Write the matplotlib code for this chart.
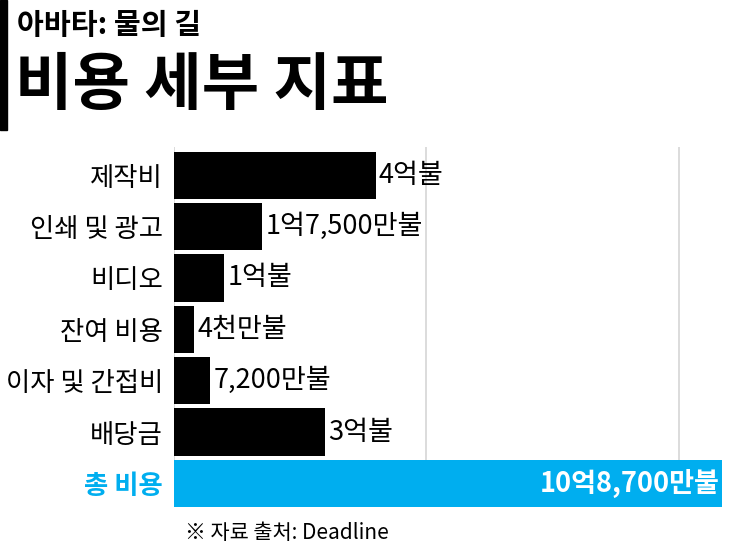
import matplotlib
matplotlib.use('Agg')
import matplotlib.pyplot as plt
from matplotlib.patches import Rectangle

plt.rcParams['font.family'] = ['Noto Sans CJK KR', 'DejaVu Sans']

# data (values in millions of dollars)
categories = ['제작비', '인쇄 및 광고', '비디오', '잔여 비용', '이자 및 간접비', '배당금', '총 비용']
values = [400, 175, 100, 40, 72, 300, 1087]
value_labels = ['4억불', '1억7,500만불', '1억불', '4천만불', '7,200만불', '3억불', '10억8,700만불']
gridlines = [0, 500, 1000]

subtitle = '아바타: 물의 길'
title = '비용 세부 지표'
source = '※ 자료 출처: Deadline'

BLUE = '#00AEEF'

fig = plt.figure(figsize=(7.3, 5.52), dpi=100)
ax = fig.add_axes([174 / 730, 1 - 507 / 552, 555 / 730, 360 / 552])

ypos = list(range(len(categories)))
colors = ['black'] * (len(categories) - 1) + [BLUE]
ax.barh(ypos, values, height=0.92, color=colors, zorder=2)

for g in gridlines:
    ax.axvline(g, color='#d9d9d9', lw=1.3, zorder=1)

ax.set_xlim(0, 1100)
ax.set_ylim(len(categories) - 1 + 0.46, -0.55)

# value labels
for i, (v, lab) in enumerate(zip(values, value_labels)):
    if i == len(values) - 1:
        ax.text(v - 6, i, lab, ha='right', va='center', fontsize=19.5,
                fontweight='bold', color='white', zorder=3)
    else:
        ax.text(v + 6, i, lab, ha='left', va='center', fontsize=19.5,
                color='black', zorder=3)

ax.set_yticks(ypos)
ax.set_yticklabels(categories, fontsize=19)
ax.tick_params(axis='y', length=0, pad=8)
ticklabels = ax.get_yticklabels()
ticklabels[-1].set_color(BLUE)
ticklabels[-1].set_fontweight('bold')
ax.set_xticks([])
for s in ax.spines.values():
    s.set_visible(False)

# titles
fig.patches.append(Rectangle((0, 1 - 130 / 552), 7 / 730, 130 / 552,
                             transform=fig.transFigure, color='black'))
fig.text(17 / 730, 1 - 25 / 552, subtitle, fontsize=21, fontweight='black',
         ha='left', va='center')
fig.text(15 / 730, 1 - 86 / 552, title, fontsize=45, fontweight='black',
         ha='left', va='center')
fig.text(185 / 730, 1 - 533 / 552, source, fontsize=15, ha='left', va='center')

fig.savefig('out.png', dpi=100)
